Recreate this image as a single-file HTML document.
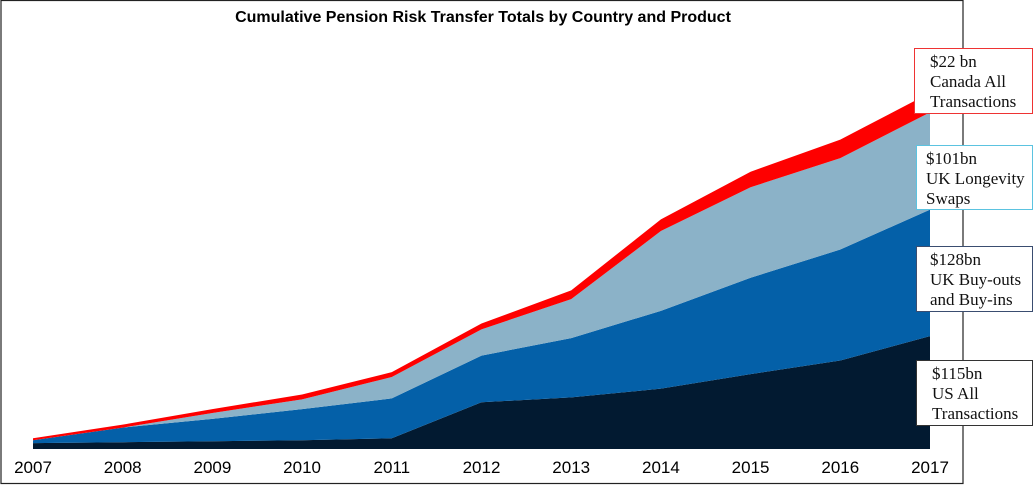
<!DOCTYPE html>
<html><head><meta charset="utf-8"><style>
body{margin:0;background:#fff;}
svg{display:block;font-family:"Liberation Sans",Arial,sans-serif;}
.lbl{font-family:"Liberation Serif","Times New Roman",serif;font-size:17px;fill:#111;}
</style></head><body>
<svg id="chart" width="1034" height="485">
<rect x="1" y="0.5" width="962" height="483" fill="#fff" stroke="#222" stroke-width="1.2"/>
<text x="483" y="22" text-anchor="middle" font-weight="bold" font-size="16" fill="#000">Cumulative Pension Risk Transfer Totals by Country and Product</text>
<g id="areas"></g><g id="xticks"></g>
<g>
<rect x="914.5" y="48.5" width="118" height="65" fill="#fff" stroke="#e33"/>
<text class="lbl" x="930" y="67"><tspan x="930">$22 bn</tspan><tspan x="930" dy="20">Canada All</tspan><tspan x="930" dy="20">Transactions</tspan></text>
<rect x="916.5" y="145.5" width="116" height="64" fill="#fff" stroke="#5bc3e0"/>
<text class="lbl" x="926" y="164"><tspan x="926">$101bn</tspan><tspan x="926" dy="20">UK Longevity</tspan><tspan x="926" dy="20">Swaps</tspan></text>
<rect x="916.5" y="246.5" width="116" height="65" fill="#fff" stroke="#3a4d70"/>
<text class="lbl" x="930" y="265"><tspan x="930">$128bn</tspan><tspan x="930" dy="20">UK Buy-outs</tspan><tspan x="930" dy="20">and Buy-ins</tspan></text>
<rect x="916.5" y="360.5" width="116" height="65" fill="#fff" stroke="#333"/>
<text class="lbl" x="932" y="379"><tspan x="932">$115bn</tspan><tspan x="932" dy="20">US All</tspan><tspan x="932" dy="20">Transactions</tspan></text>
</g>
</svg>
<script>
const years=["2007","2008","2009","2010","2011","2012","2013","2014","2015","2016","2017"];
const usAll=[6,7,8,9,11,48,53,62,77,91,116];
const ukBuyouts=[3,15,23,32,41,48,61,80,99,114,130];
const ukLongevity=[0,0,6,10,22,27,40,82,93,94,100];
const canadaAll=[2,3,4,5,5,6,9,12,16,19,20];
const series=[{name:"us-all",v:usAll,c:"#021a31"},{name:"uk-buyouts",v:ukBuyouts,c:"#0460a8"},{name:"uk-longevity",v:ukLongevity,c:"#8bb2c8"},{name:"canada-all",v:canadaAll,c:"#fe0000"}];
const x0=33,x1=930,yb=449,k=0.973;
const xs=i=>x0+(x1-x0)*i/(years.length-1);
const ys=v=>yb-v*k;
const NS="http://www.w3.org/2000/svg";
const ga=document.getElementById("areas");
let base=years.map(()=>0);
series.forEach(s=>{
  const top=base.map((b,i)=>b+s.v[i]);
  let d="M"+years.map((_,i)=>xs(i)+","+ys(top[i])).join(" L");
  for(let i=years.length-1;i>=0;i--) d+=" L"+xs(i)+","+ys(base[i]);
  d+=" Z";
  const p=document.createElementNS(NS,"path");
  p.setAttribute("d",d);p.setAttribute("fill",s.c);
  
  
  ga.appendChild(p);
  base=top;
});
const gx=document.getElementById("xticks");
years.forEach((y,i)=>{
  const t=document.createElementNS(NS,"text");
  t.setAttribute("x",xs(i));t.setAttribute("y",473);
  t.setAttribute("text-anchor","middle");t.setAttribute("font-size","17");
  t.textContent=y;
  
  
  gx.appendChild(t);
});
</script>
</body></html>
